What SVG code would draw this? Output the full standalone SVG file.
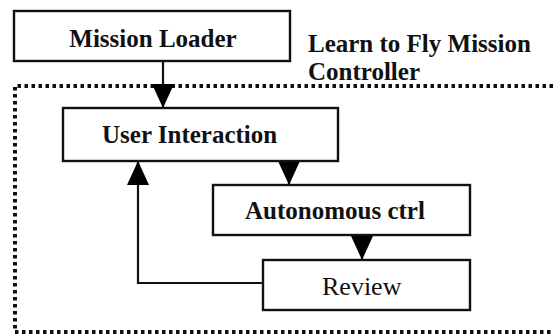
<svg xmlns="http://www.w3.org/2000/svg" width="553" height="335" viewBox="0 0 553 335">
  <style>
    .box { fill: #fff; stroke: #111; stroke-width: 2.4; }
    .link { fill: none; stroke: #111; stroke-width: 2.2; }
    .bold { font-family: "Liberation Serif", "Times New Roman", serif; font-weight: bold; font-size: 25px; fill: #111; }
    .plain { font-family: "Liberation Serif", "Times New Roman", serif; font-size: 26px; fill: #111; }
    .frame { fill: none; stroke: #111; stroke-width: 4; stroke-dasharray: 3.5 3.5; }
  </style>
  <defs>
    <marker id="head" markerUnits="userSpaceOnUse" markerWidth="24" markerHeight="24" refX="24" refY="11" orient="auto" viewBox="0 0 24 22">
      <path d="M0,0 L24,11 L0,22 Z" fill="#000"/>
    </marker>
  </defs>

  <rect width="553" height="335" fill="#fff"/>

  <!-- dotted controller boundary, open past the right edge -->
  <g id="controller">
    <path class="frame" d="M560,86 H15 V332 H560"/>
    <text class="bold" x="308" y="52">Learn to Fly Mission</text>
    <text class="bold" x="308" y="80">Controller</text>
  </g>

  <g id="connectors">
    <line class="link" x1="163" y1="61" x2="163" y2="108" marker-end="url(#head)"/>
    <line class="link" x1="289" y1="161" x2="289" y2="185" marker-end="url(#head)"/>
    <line class="link" x1="362" y1="235" x2="362" y2="260" marker-end="url(#head)"/>
    <polyline class="link" points="263,283 138,283 138,161" marker-end="url(#head)"/>
  </g>

  <g id="mission-loader">
    <rect class="box" x="14" y="11" width="276" height="50"/>
    <text class="bold" x="153" y="47" text-anchor="middle">Mission Loader</text>
  </g>

  <g id="user-interaction">
    <rect class="box" x="63" y="108" width="275" height="53"/>
    <text class="bold" x="102" y="143">User Interaction</text>
  </g>

  <g id="autonomous-ctrl">
    <rect class="box" x="213" y="185" width="257" height="50"/>
    <text class="bold" x="245" y="219">Autonomous ctrl</text>
  </g>

  <g id="review">
    <rect class="box" x="263" y="260" width="207" height="50"/>
    <text class="plain" x="322" y="295">Review</text>
  </g>
</svg>
